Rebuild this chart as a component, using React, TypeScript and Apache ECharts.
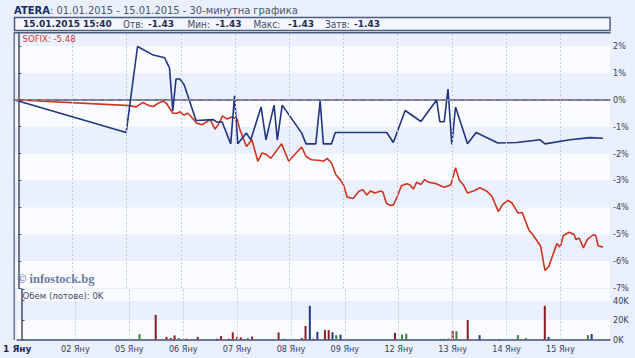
import React, { useEffect, useRef } from "react";
import * as echarts from "echarts";

// ---- data ----
const dayTicks = [-0.08, 1, 2, 3, 4, 5, 6, 7, 8, 9, 10];
const dayLabels = ["1 Яну", "02 Яну", "05 Яну", "06 Яну", "07 Яну", "08 Яну", "09 Яну", "12 Яну", "13 Яну", "14 Яну", "15 Яну"];

// ATERA % change, [trading-day position, %]
const ateraPct: [number, number][] = [
  [-0.08, 0], [1.99, -1.22], [2.2, 1.98], [2.49, 1.66], [2.7, 1.56], [2.74, 1.39], [2.79, 1.18],
  [2.85, -0.42], [2.91, 0.77], [2.98, 0.77], [3.06, 0.56], [3.28, -0.77], [3.6, -0.74], [3.67, -0.84],
  [3.76, -0.82], [3.92, -1.64], [3.99, 0.15], [4.05, -1.64], [4.21, -1.24], [4.29, -1.49], [4.48, -0.27],
  [4.57, -1.49], [4.72, -0.2], [4.78, -1.49], [4.87, -0.2], [5.23, -1.24], [5.31, -1.64], [5.49, -1.64],
  [5.57, -0.04], [5.63, -1.64], [5.78, -1.64], [5.85, -1.22], [6.8, -1.22], [6.92, -1.59], [7.14, -0.4],
  [7.43, -0.81], [7.72, -0.01], [7.78, -0.82], [7.86, -0.82], [7.93, 0.4], [8.0, -1.66], [8.07, -0.27],
  [8.29, -1.64], [8.45, -1.22], [8.85, -1.61], [9.2, -1.59], [9.63, -1.49], [9.72, -1.64], [10.18, -1.49],
  [10.55, -1.41], [10.79, -1.43],
];

// SOFIX % change
const sofixPct: [number, number][] = [
  [-0.08, 0], [2.06, -0.22], [2.17, -0.27], [2.3, -0.1], [2.39, -0.2], [2.49, -0.25], [2.59, -0.12],
  [2.68, -0.05], [2.74, -0.15], [2.85, -0.5], [2.93, -0.5], [2.98, -0.45], [3.06, -0.57], [3.13, -0.5],
  [3.23, -0.72], [3.29, -0.87], [3.39, -0.93], [3.54, -0.74], [3.63, -1.09], [3.69, -0.93], [3.77, -0.6],
  [3.85, -0.72], [3.94, -0.64], [4.04, -0.72], [4.09, -1.12], [4.21, -1.74], [4.31, -1.49], [4.42, -2.29],
  [4.5, -1.98], [4.58, -2.04], [4.66, -2.18], [4.86, -1.64], [4.99, -2.29], [5.08, -2.08], [5.23, -1.76],
  [5.31, -2.11], [5.41, -2.23], [5.57, -2.26], [5.63, -2.29], [5.7, -2.18], [5.78, -2.35], [5.86, -2.79],
  [5.94, -2.97], [6.0, -3.16], [6.07, -3.62], [6.18, -3.67], [6.29, -3.39], [6.36, -3.35], [6.43, -3.54],
  [6.5, -3.39], [6.58, -3.47], [6.69, -3.39], [6.73, -3.44], [6.79, -3.84], [6.85, -3.92], [6.92, -3.92],
  [6.99, -3.62], [7.07, -3.2], [7.17, -3.12], [7.23, -3.17], [7.29, -3.32], [7.35, -3.07], [7.43, -3.15],
  [7.5, -2.97], [7.57, -3.07], [7.71, -3.12], [7.86, -3.25], [7.98, -3.17], [8.07, -2.53], [8.14, -3.0],
  [8.21, -3.15], [8.29, -3.47], [8.4, -3.39], [8.52, -3.27], [8.64, -3.39], [8.74, -3.59], [8.86, -4.16],
  [8.94, -3.89], [9.04, -3.74], [9.11, -3.84], [9.22, -4.21], [9.3, -4.19], [9.42, -4.83], [9.5, -5.03],
  [9.64, -5.45], [9.72, -6.35], [9.79, -6.2], [9.94, -5.35], [10.0, -5.48], [10.06, -5.05], [10.17, -4.93],
  [10.26, -5.02], [10.29, -5.2], [10.35, -5.14], [10.43, -5.51], [10.5, -5.2], [10.61, -5.02], [10.66, -5.06],
  [10.7, -5.43], [10.79, -5.48],
];

// volume in lots: [position, lots, direction]  d = down, u = up, f = flat
const volumes: [number, number, string][] = [
  [2.19, 5500, "f"], [2.49, 25300, "d"], [2.69, 2700, "d"], [2.77, 1500, "d"], [2.84, 4200, "d"],
  [2.92, 1500, "f"], [3.06, 800, "d"], [3.27, 2700, "d"], [3.63, 800, "u"], [3.7, 3500, "d"],
  [3.85, 800, "u"], [3.92, 7300, "d"], [4.0, 2700, "d"], [4.07, 2200, "d"], [4.2, 1500, "f"],
  [4.28, 3000, "d"], [4.77, 7300, "d"], [4.86, 800, "f"], [5.2, 1500, "d"], [5.27, 13900, "d"],
  [5.35, 34700, "u"], [5.41, 800, "u"], [5.49, 7900, "u"], [5.63, 9700, "d"], [5.7, 9700, "d"],
  [5.77, 7500, "u"], [5.84, 4500, "f"], [5.92, 5000, "u"], [6.93, 6900, "d"], [7.06, 5000, "f"],
  [7.14, 6000, "f"], [7.78, 600, "u"], [7.84, 600, "u"], [7.92, 1000, "f"], [8.0, 9000, "d"],
  [8.07, 8500, "f"], [8.28, 20000, "d"], [8.5, 4500, "u"], [8.86, 600, "u"], [9.21, 4500, "f"],
  [9.36, 1500, "f"], [9.71, 34700, "d"], [9.78, 2700, "u"], [10.51, 4500, "f"], [10.58, 5700, "u"],
];

const pctTicks = [-7, -6, -5, -4, -3, -2, -1, 0, 1, 2];
const volTicks = [0, 20000, 40000];

const headerTitle = "ATERA";
const headerRange = ": 01.01.2015 - 15.01.2015 - 30-минутна графика";
const lastStamp = "15.01.2015 15:40";
const statLabels = ["Отв:", "Мин:", "Макс:", "Затв:"];
const statValues = ["-1.43", "-1.43", "-1.43", "-1.43"];
const sofixLabel = "SOFIX: -5.48";
const volLabel = "Обем (лотове): 0K";
const copyright = "© infostock.bg";

const FONT = "'DejaVu Sans Condensed', 'DejaVu Sans', sans-serif";
const BFONT = "'DejaVu Sans', sans-serif";
const volColors: Record<string, string> = { d: "#8a1c26", u: "#24398a", f: "#3f7d3f" };

export default function App() {
  const ref = useRef<HTMLDivElement>(null);
  useEffect(() => {
    if (!ref.current) return;
    const chart = echarts.init(ref.current, undefined, { renderer: "svg" });
    const vLines = dayTicks.slice(1).map((d) => ({ xAxis: d }));
    const statX = [123, 187.5, 253.5, 325];
    const statVX = [148, 215.5, 288, 354];
    const graphics: any[] = [
      {
        type: "text", x: 14, y: 10, z: 100,
        style: {
          text: `{a|${headerTitle}}{b|${headerRange}}`,
          verticalAlign: "middle",
          rich: {
            a: { fontFamily: BFONT, fontSize: 10, fontWeight: "bold", fill: "#1c2d66" },
            b: { fontFamily: FONT, fontSize: 11, fill: "#4b5672" },
          },
        },
      },
      {
        type: "rect", z: 90,
        shape: { x: 14.5, y: 17.5, width: 595.5, height: 13 },
        style: { fill: "#f3f6fd", stroke: "#4e5c7c", lineWidth: 1.5 },
      },
      {
        type: "text", x: 23, y: 24.2, z: 100,
        style: { text: lastStamp, fontFamily: BFONT, fontSize: 9, fontWeight: "bold", fill: "#1e2a4e", verticalAlign: "middle" },
      },
      ...statLabels.map((l, i) => ({
        type: "text", x: statX[i], y: 24.2, z: 100,
        style: { text: l, fontFamily: FONT, fontSize: 10, fill: "#3e4a68", verticalAlign: "middle" },
      })),
      ...statValues.map((v, i) => ({
        type: "text", x: statVX[i], y: 24.2, z: 100,
        style: { text: v, fontFamily: BFONT, fontSize: 9, fontWeight: "bold", fill: "#1e2a4e", verticalAlign: "middle" },
      })),
      {
        type: "line", z: 100,
        shape: { x1: 14, y1: 32.75, x2: 610.5, y2: 32.75 },
        style: { stroke: "#4e5c7c", lineWidth: 1.5 },
      },
      {
        type: "line", z: 100,
        shape: { x1: 14.25, y1: 32, x2: 14.25, y2: 340 },
        style: { stroke: "#66749a", lineWidth: 1.5 },
      },
      {
        type: "text", x: 22.5, y: 38.5, z: 100,
        style: { text: sofixLabel, fontFamily: FONT, fontSize: 9.5, fill: "#c8402e", verticalAlign: "middle" },
      },
      {
        type: "text", x: 22.5, y: 295.5, z: 100,
        style: { text: volLabel, fontFamily: FONT, fontSize: 9.5, fill: "#3e4a68", verticalAlign: "middle" },
      },
      {
        type: "text", x: 17, y: 278.5, z: 100,
        style: { text: copyright, fontFamily: "'Liberation Serif', 'DejaVu Serif', serif", fontSize: 12.5, fontWeight: "bold", fill: "#6b7ba3", verticalAlign: "middle" },
      },
    ];

    const axisColor = "#42506f";
    const labelStyle = { fontFamily: FONT, fontSize: 9, color: "#34425f" };
    const gridLineStyle = { color: "#c3cbe2", type: [2, 2], width: 1 };

    chart.setOption({
      animation: false,
      backgroundColor: "#e9effb",
      grid: [
        { left: 14, top: 32.5, width: 596, height: 255.5, containLabel: false },
        { left: 14, top: 289, width: 596, height: 50.5, containLabel: false },
      ],
      xAxis: [
        {
          type: "value", gridIndex: 0, min: -0.08, max: 10.92,
          axisLine: { show: true, lineStyle: { color: axisColor, width: 1.5 } },
          axisTick: { show: false }, axisLabel: { show: false }, splitLine: { show: false },
        },
        {
          type: "value", gridIndex: 1, min: -0.08, max: 10.92,
          axisLine: { show: true, lineStyle: { color: axisColor, width: 1.5 } },
          axisTick: { show: false },
          splitLine: { show: false },
          axisLabel: {
            ...labelStyle,
            margin: 5,
            customValues: dayTicks,
            showMinLabel: true,
            showMaxLabel: true,
            formatter: (v: number) => {
              const i = dayTicks.findIndex((t) => Math.abs(t - v) < 1e-6);
              if (i < 0) return "";
              return i === 0 ? `{b|${dayLabels[0]}}` : dayLabels[i];
            },
            rich: { b: { fontFamily: BFONT, fontSize: 9, fontWeight: "bold", color: "#1e2a55" } },
          },
        },
      ],
      yAxis: [
        {
          type: "value", gridIndex: 0, position: "right", min: -7, max: 2.5, interval: 1,
          axisLine: { show: true, lineStyle: { color: axisColor, width: 1.5 } },
          axisTick: { show: true, inside: false, length: 3, lineStyle: { color: axisColor } },
          axisLabel: {
            ...labelStyle, margin: 3, showMaxLabel: true,
            formatter: (v: number) => (pctTicks.includes(v) ? `${v}%` : ""),
          },
          splitLine: { show: false },
          splitArea: { show: true, areaStyle: { color: ["#fafbff", "#eaf0fc"] } },
        },
        {
          type: "value", gridIndex: 1, position: "right", min: 0, max: 52000, interval: 20000,
          axisLine: { show: true, lineStyle: { color: axisColor, width: 1.5 } },
          axisTick: { show: true, inside: false, length: 3, lineStyle: { color: axisColor } },
          axisLabel: {
            ...labelStyle, margin: 3,
            formatter: (v: number) => (volTicks.includes(v) ? `${v / 1000}K` : ""),
          },
          splitLine: { show: false },
          splitArea: { show: true, areaStyle: { color: ["#fafbff", "#eaf0fc"] } },
        },
      ],
      series: [
        {
          type: "line", name: "grid-main", xAxisIndex: 0, yAxisIndex: 0, data: [], z: 1,
          markLine: {
            silent: true, symbol: ["none", "none"], label: { show: false }, animation: false,
            lineStyle: gridLineStyle,
            data: [
              ...vLines,
              { yAxis: 0, lineStyle: { color: "#8a90a6", type: [5, 4], width: 1.5 } },
            ],
          },
        },
        {
          type: "line", name: "grid-vol", xAxisIndex: 1, yAxisIndex: 1, data: [], z: 1,
          markLine: {
            silent: true, symbol: ["none", "none"], label: { show: false }, animation: false,
            lineStyle: gridLineStyle,
            data: vLines,
          },
        },
        {
          type: "line", name: "SOFIX", xAxisIndex: 0, yAxisIndex: 0,
          data: sofixPct, showSymbol: false, symbol: "none", z: 3,
          lineStyle: { color: "#cf3420", width: 1.6 },
        },
        {
          type: "line", name: "ATERA", xAxisIndex: 0, yAxisIndex: 0,
          data: ateraPct, showSymbol: false, symbol: "none", z: 4,
          lineStyle: { color: "#22357f", width: 1.6 },
        },
        {
          type: "bar", name: "Обем", xAxisIndex: 1, yAxisIndex: 1, barWidth: 2, z: 3,
          data: volumes.map(([x, v, d]) => ({ value: [x, v], itemStyle: { color: volColors[d] } })),
        },
      ],
      graphic: graphics,
    });
    return () => chart.dispose();
  }, []);
  return <div ref={ref} style={{ position: "fixed", left: 0, top: 0, width: 635, height: 358 }} />;
}
